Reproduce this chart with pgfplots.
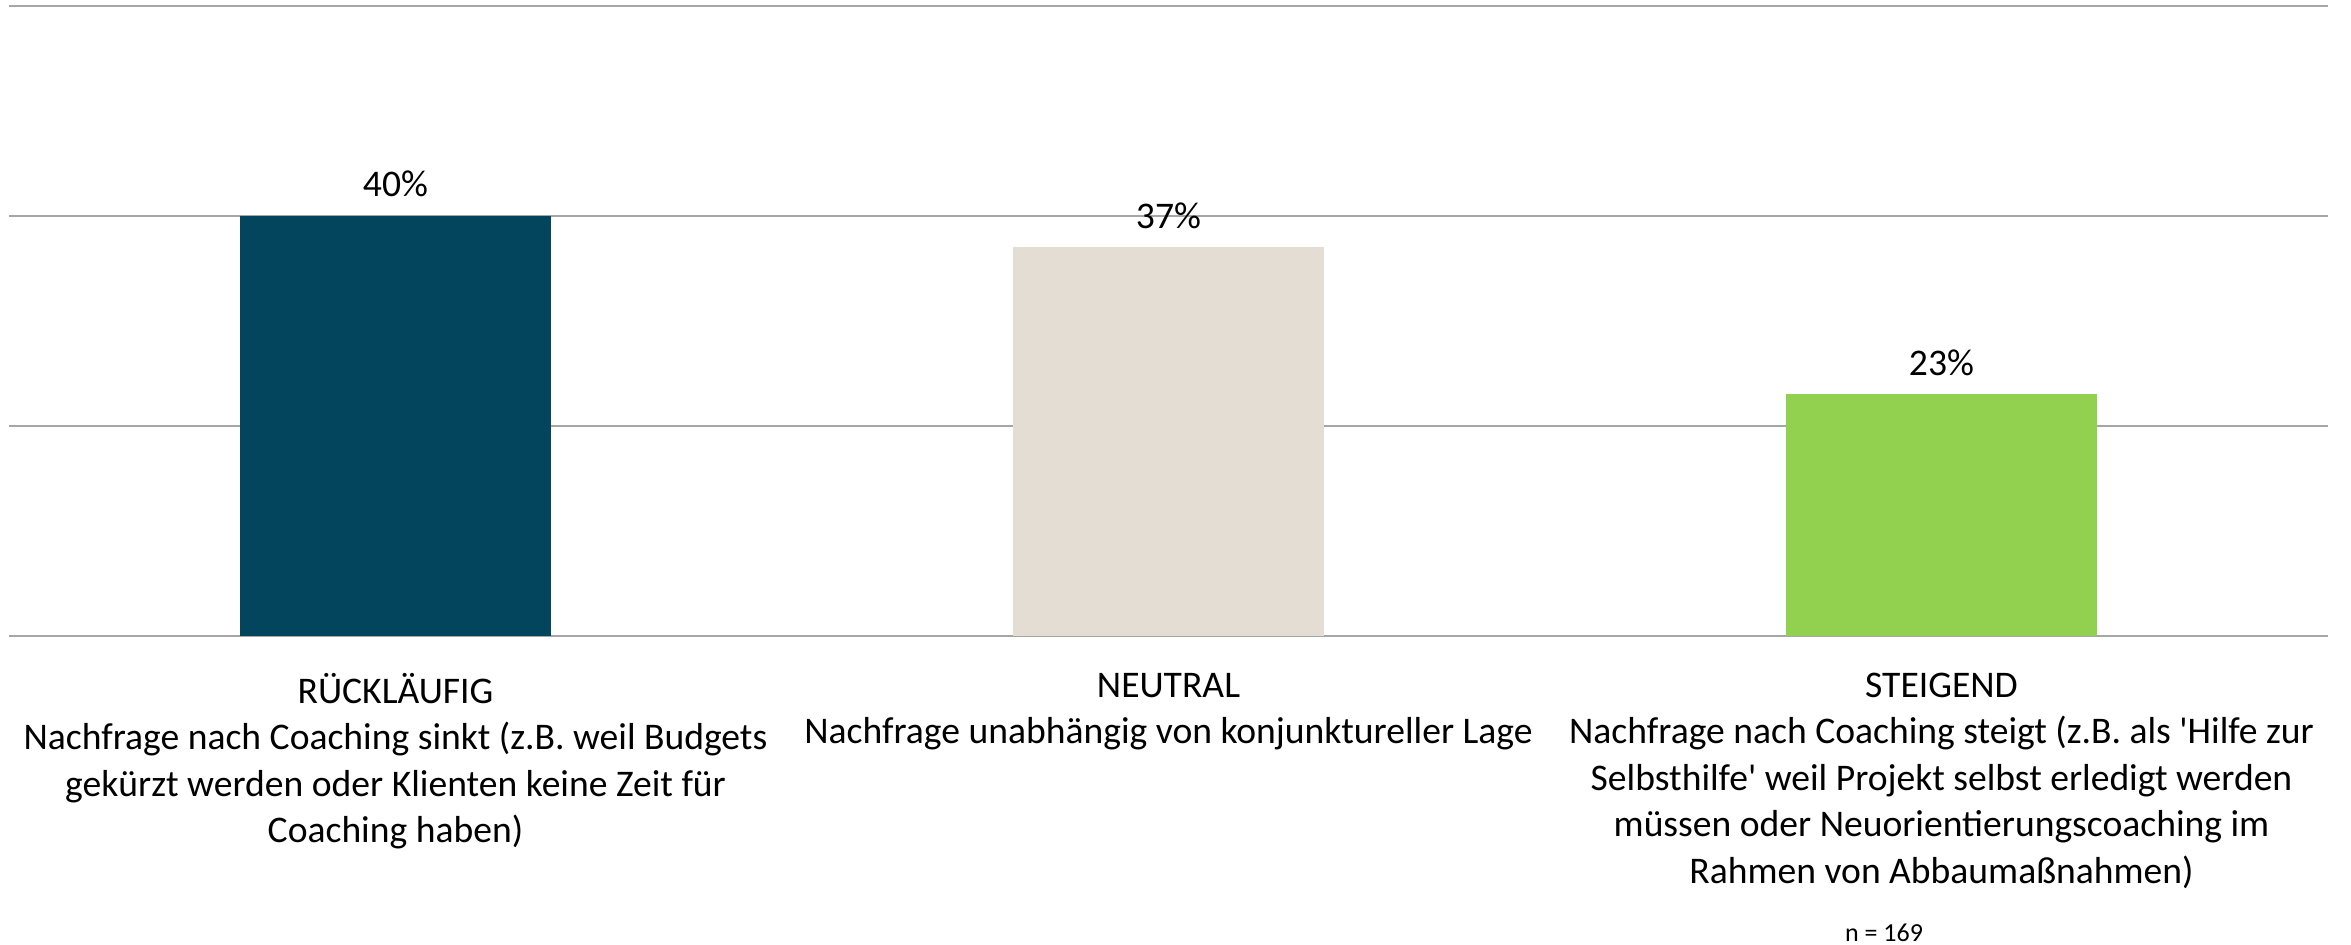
\documentclass[border=0pt]{standalone}
\usepackage{fontspec}
\setmainfont{Carlito}[Ligatures=TeXOff]
\usepackage{pgfplots}
\pgfplotsset{compat=1.18}
\definecolor{cDark}{RGB}{4,69,94}
\definecolor{cBeige}{RGB}{227,221,211}
\definecolor{cGreen}{RGB}{146,208,80}
\definecolor{cGrid}{RGB}{166,166,166}
\begin{document}
\begin{tikzpicture}
\begin{axis}[
 at={(0.9mm,30.9mm)}, anchor=south west,
 scale only axis, width=231.9mm, height=63mm,
 xmin=-0.5, xmax=2.5, ymin=0, ymax=60,
 ybar, bar width=31mm, bar shift=0pt,
 axis line style={draw=none},
 major tick style={draw=none},
 ytick={0,20,40,60}, yticklabels={},
 ymajorgrids, grid style={cGrid, line width=0.6pt},
 xtick={0,1,2},
 xticklabels={{RÜCKLÄUFIG\\Nachfrage nach Coaching sinkt (z.B. weil Budgets\\gekürzt werden oder Klienten keine Zeit für\\Coaching haben)},
   {NEUTRAL\\Nachfrage unabhängig von konjunktureller Lage},
   {STEIGEND\\Nachfrage nach Coaching steigt (z.B. als 'Hilfe zur\\Selbsthilfe' weil Projekt selbst erledigt werden\\müssen oder Neuorientierungscoaching im\\Rahmen von Abbaumaßnahmen)}},
 xticklabel style={align=center, anchor=north, inner sep=0pt, font=\fontsize{10.7}{13.2}\selectfont, yshift=-2.15mm},
 nodes near coords={\pgfmathprintnumber{\pgfplotspointmeta}\%},
 every node near coord/.append style={font=\fontsize{10.7}{13.1}\selectfont, anchor=south, inner sep=0pt, yshift=1.8mm, black},
 /pgf/number format/assume math mode=true,
 clip=false,
]
\addplot[fill=cDark, draw=none] coordinates {(0,40)};
\addplot[fill=cBeige, draw=none] coordinates {(1,37)};
\addplot[fill=cGreen, draw=none] coordinates {(2,23)};
\end{axis}
\node at (188.4mm,1.2mm) {\fontsize{7.4}{9}\selectfont n = 169};
\pgfresetboundingbox
\path[use as bounding box] (0,0) rectangle (235.1mm,94.5mm);
\end{tikzpicture}
\end{document}
